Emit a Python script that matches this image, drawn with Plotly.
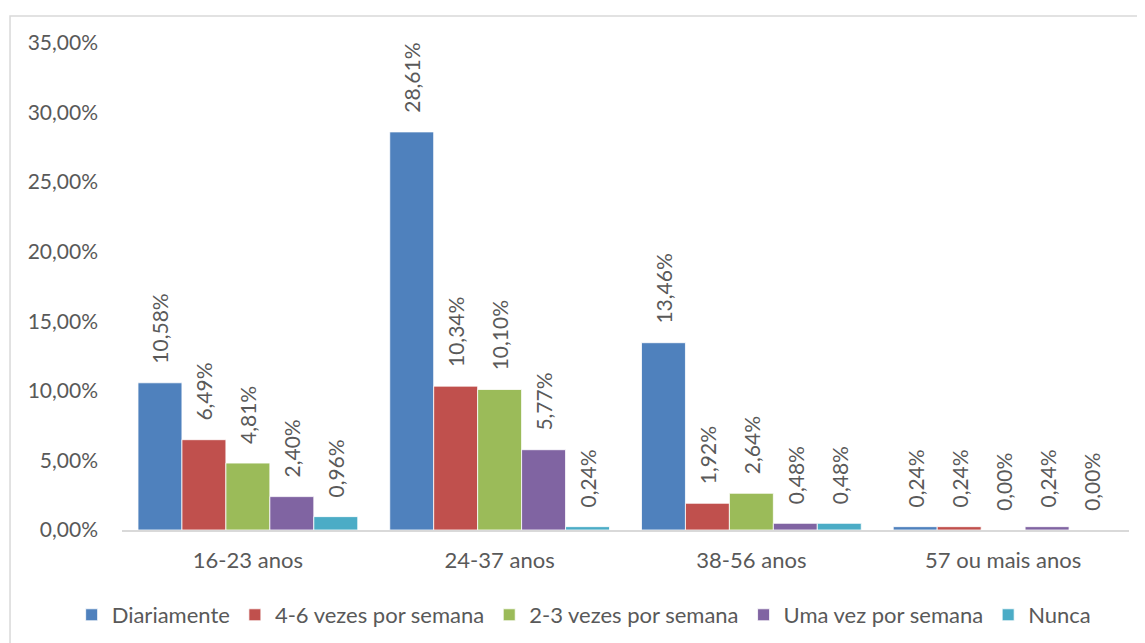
import plotly.graph_objects as go

# ── Data ──────────────────────────────────────────────────────────────────────
categories = ['16-23 anos', '24-37 anos', '38-56 anos', '57 ou mais anos']
series_names = ['Diariamente', '4-6 vezes por semana', '2-3 vezes por semana',
                'Uma vez por semana', 'Nunca']
diariamente = [10.58, 28.61, 13.46, 0.24]
quatro_seis = [6.49, 10.34, 1.92, 0.24]
dois_tres = [4.81, 10.10, 2.64, 0.00]
uma_vez = [2.40, 5.77, 0.48, 0.24]
nunca = [0.96, 0.24, 0.48, 0.00]
tick_vals = [0, 5, 10, 15, 20, 25, 30, 35]

COLORS = ['#4F81BD', '#C0504D', '#9BBB59', '#8064A2', '#4BACC6']
FONT = 'Lato, Calibri, sans-serif'
GREY = '#595959'
PAD = '\u00a0' * 3   # pushes the rotated labels a bit higher above the bars


def pct(v):
    return f'{v:.2f}'.replace('.', ',') + '%'


fig = go.Figure()
for name, vals, color in zip(series_names,
                             [diariamente, quatro_seis, dois_tres, uma_vez, nunca],
                             COLORS):
    fig.add_trace(go.Bar(
        x=categories, y=vals, name=name,
        marker=dict(color=color, line=dict(color='white', width=0.8)),
        text=[PAD + pct(v) for v in vals],
        textposition='outside', textangle=-90,
        textfont=dict(family=FONT, size=21, color=GREY),
        constraintext='none', cliponaxis=False,
    ))

# chart border (Excel chart area outline)
fig.add_shape(type='rect', xref='paper', yref='paper',
              x0=-0.1112, x1=1.2, y0=-0.4, y1=1.0554,
              line=dict(color='#D9D9D9', width=1.5), layer='below')

fig.update_layout(
    width=1145, height=643,
    margin=dict(l=114, r=24, t=35, b=121),
    barmode='group', bargap=0.127, bargroupgap=0,
    paper_bgcolor='white', plot_bgcolor='white',
    font=dict(family=FONT, size=21, color=GREY),
    showlegend=True,
    # left-anchored just left of the plot area so the single row is allowed
    # to use the full width (no wrapping)
    legend=dict(orientation='h', x=-0.05, xanchor='left',
                y=-0.1745, yanchor='middle',
                font=dict(family=FONT, size=22, color=GREY),
                itemwidth=30, traceorder='normal'),
    xaxis=dict(showline=True, linecolor='#D9D9D9', linewidth=1.5,
               ticks='', showgrid=False, ticklabelstandoff=10,
               tickfont=dict(family=FONT, size=22, color=GREY)),
    yaxis=dict(range=[0, 35], tickvals=tick_vals,
               ticktext=[pct(v) for v in tick_vals],
               showgrid=False, zeroline=False, showline=False, ticks='',
               ticklabelstandoff=23,
               tickfont=dict(family=FONT, size=21, color=GREY)),
)

fig.write_html('out.html')
